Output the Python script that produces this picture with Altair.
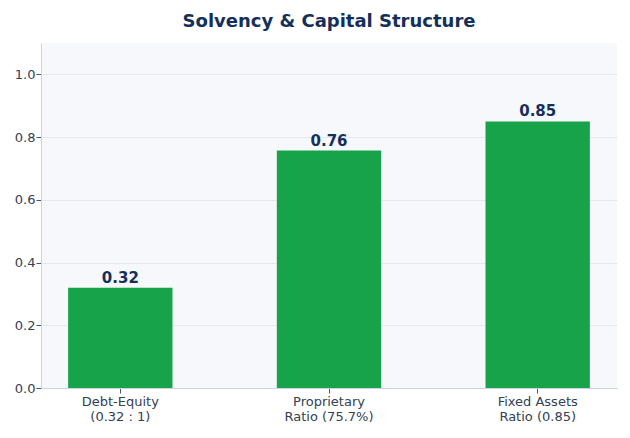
import altair as alt
import pandas as pd

categories = ['Debt-Equity|(0.32 : 1)', 'Proprietary|Ratio (75.7%)', 'Fixed Assets|Ratio (0.85)']
values = [0.32, 0.757, 0.85]

df = pd.DataFrame({'metric': categories, 'value': values})

navy = '#14305a'
font = 'DejaVu Sans'

x_enc = alt.X('metric:N', sort=None, title=None,
              scale=alt.Scale(paddingInner=0.5, paddingOuter=0.13),
              axis=alt.Axis(labelExpr="split(datum.label, '|')", labelAngle=0,
                            labelFontSize=13, labelColor='#334155', labelFont=font,
                            labelLineHeight=15, labelPadding=2,
                            domainColor='#cbd5e1', tickColor='#475569', tickSize=5,
                            grid=False))
y_enc = alt.Y('value:Q', title=None,
              scale=alt.Scale(domain=[0, 1.1], nice=False),
              axis=alt.Axis(values=[0, 0.2, 0.4, 0.6, 0.8, 1.0], format='.1f',
                            labelFontSize=13, labelColor='#334155', labelFont=font,
                            domainColor='#cbd5e1', tickColor='#475569', tickSize=5,
                            gridColor='#e2e8f0', gridWidth=1, labelPadding=1))

bars = alt.Chart(df).mark_bar(color='#16a34a').encode(x=x_enc, y=y_enc)

labels = alt.Chart(df).mark_text(baseline='bottom', dy=-2, fontSize=15, fontWeight='bold',
                                 color=navy, font=font).encode(
    x=alt.X('metric:N', sort=None),
    y='value:Q',
    text=alt.Text('value:Q', format='.2f')
)

chart = alt.layer(bars, labels).properties(
    width=576,
    height=345,
    autosize=alt.AutoSizeParams(type='none'),
    padding={'left': 33, 'top': 35, 'right': 5, 'bottom': 42},
    title=alt.Title('Solvency & Capital Structure', fontSize=18, fontWeight='bold',
                    color=navy, font=font, anchor='middle', offset=12)
).configure_view(
    fill='#f6f8fb', stroke=None
)

chart.save("out.html", embed_options={"renderer": "svg", "actions": False})
